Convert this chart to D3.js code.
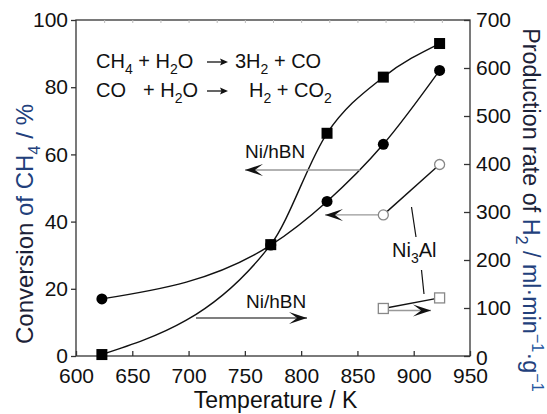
<!DOCTYPE html>
<html><head><meta charset="utf-8">
<script src="https://cdn.jsdelivr.net/npm/d3@7"></script>
<style>body{margin:0;background:#fff}svg{display:block;font-family:"Liberation Sans",Arial,sans-serif}</style>
</head><body><svg id="c" width="547" height="414"></svg>
<script>
// ---- data ----
const temps = [623, 773, 823, 873, 923];
const convNiHBN = [17, 33, 46, 63, 85];        // % (filled circles, left axis)
const h2NiHBN = [3, 232, 464, 581, 651];        // ml/min/g (filled squares, right axis)
const tempsNi3Al = [873, 923];
const convNi3Al = [42, 57];                     // % (open circles, left axis)
const h2Ni3Al = [99, 121];                      // ml/min/g (open squares, right axis)
const xTicks = [600, 650, 700, 750, 800, 850, 900, 950];
const yLeftTicks = [0, 20, 40, 60, 80, 100];
const yRightTicks = [0, 100, 200, 300, 400, 500, 600, 700];

const svg = d3.select("#c");
const X0 = 76, X1 = 470, Y0 = 20, Y1 = 356;
const x = d3.scaleLinear().domain([600, 950]).range([X0, X1]);
const yL = d3.scaleLinear().domain([0, 100]).range([Y1, Y0]);
const yR = d3.scaleLinear().domain([0, 700]).range([Y1, Y0]);
const FS = 21;

// frame
svg.append("rect").attr("x", X0).attr("y", Y0).attr("width", X1 - X0).attr("height", Y1 - Y0)
  .attr("fill", "none").attr("stroke", "#333").attr("stroke-width", 1.3);

// top minor ticks
svg.append("g").attr("transform", `translate(0,${Y0})`)
  .call(d3.axisTop(x).tickValues(d3.range(625, 950, 25)).tickSize(-3).tickFormat(""))
  .call(g => { g.select(".domain").remove(); g.selectAll("line").attr("stroke", "#bbb"); });

// bottom axis
const gx = svg.append("g").attr("transform", `translate(0,${Y1})`)
  .call(d3.axisBottom(x).tickValues(xTicks).tickSize(-5).tickPadding(12).tickFormat(d3.format("d")));
// left axis
const gl = svg.append("g").attr("transform", `translate(${X0},0)`)
  .call(d3.axisLeft(yL).tickValues(yLeftTicks).tickSize(5).tickPadding(3));
// right axis
const gr = svg.append("g").attr("transform", `translate(${X1},0)`)
  .call(d3.axisRight(yR).tickValues(yRightTicks).tickSize(-6).tickPadding(6));
[gx, gl, gr].forEach(g => {
  g.select(".domain").remove();
  g.selectAll("line").attr("stroke", "#333").attr("stroke-width", 1.3);
  g.selectAll("text").attr("font-size", FS).attr("fill", "#111")
    .attr("font-family", '"Liberation Sans",Arial,sans-serif');
});
gx.selectAll("text").attr("dy", "0.71em");
gr.selectAll("text").filter(d => d === 0).attr("dy", "0.4em");

// rich text helper
function rich(sel, segs, fs) {
  const t = sel.append("text").attr("font-size", fs);
  let shift = 0;
  segs.forEach(s => {
    const want = s.sub ? 0.28 * fs : s.sup ? -0.38 * fs : 0;
    const ts = t.append("tspan").text(s.t).attr("dy", want - shift);
    if (s.sub || s.sup) ts.attr("font-size", fs * 0.7);
    if (s.c) ts.attr("fill", s.c);
    shift = want;
  });
  return t;
}
const DARK = "#1c2238", BLUE = "#22407c", BLUE2 = "#2556a0";

// axis titles
rich(svg.append("g").attr("transform", "translate(33,224) rotate(-90)"),
  [{t: "Conversion ", c: DARK}, {t: "of CH", c: BLUE}, {t: "4", sub: true, c: BLUE}, {t: " / %", c: BLUE}], 24)
  .attr("text-anchor", "middle");
rich(svg.append("g").attr("transform", "translate(523,210) rotate(90)"),
  [{t: "Production rate of ", c: DARK}, {t: "H", c: BLUE}, {t: "2", sub: true, c: BLUE}, {t: " / ml·min", c: BLUE},
   {t: "−1", sup: true, c: BLUE2}, {t: "·g", c: BLUE}, {t: "−1", sup: true, c: BLUE2}], 23.3)
  .attr("text-anchor", "middle");
svg.append("text").attr("x", 275.5).attr("y", 408).attr("text-anchor", "middle")
  .attr("font-size", 23).attr("fill", "#111").text("Temperature / K");

// curves
const line = d3.line().curve(d3.curveMonotoneX);
const ptsConv = temps.map((t, i) => [x(t), yL(convNiHBN[i])]);
const ptsH2 = temps.map((t, i) => [x(t), yR(h2NiHBN[i])]);
svg.append("path").attr("d", line(ptsConv)).attr("fill", "none").attr("stroke", "#111").attr("stroke-width", 1.4);
svg.append("path").attr("d", line(ptsH2)).attr("fill", "none").attr("stroke", "#111").attr("stroke-width", 1.4);
const lin = d3.line();
const ptsConvA = tempsNi3Al.map((t, i) => [x(t), yL(convNi3Al[i])]);
const ptsH2A = tempsNi3Al.map((t, i) => [x(t), yR(h2Ni3Al[i])]);
svg.append("path").attr("d", lin(ptsConvA)).attr("fill", "none").attr("stroke", "#111").attr("stroke-width", 1.4);
svg.append("path").attr("d", lin(ptsH2A)).attr("fill", "none").attr("stroke", "#111").attr("stroke-width", 1.4);

// arrows (pointer lines)
function arrow(xs, xe, y, col) {
  svg.append("line").attr("x1", xs).attr("x2", xe).attr("y1", y).attr("y2", y)
    .attr("stroke", col).attr("stroke-width", 1.3);
  const dir = xe < xs ? 1 : -1; // head at xe
  const L = 18, w = 6;
  svg.append("path").attr("d",
    `M${xe},${y} L${xe + dir * L},${y - w} L${xe + dir * L * 0.55},${y} L${xe + dir * L},${y + w} Z`)
    .attr("fill", "#111");
}
arrow(360, 245, 170, "#999");                       // Ni/hBN conversion -> left axis
arrow(196, 307, 318, "#555");                       // Ni/hBN H2 -> right axis
arrow(ptsConvA[0][0] - 5, 325, ptsConvA[0][1], "#999"); // Ni3Al conversion -> left
arrow(ptsH2A[0][0] + 5, 431, ptsH2A[0][1] + 2, "#999"); // Ni3Al H2 -> right

// markers
svg.selectAll(".fc").data(ptsConv).join("circle").attr("cx", d => d[0]).attr("cy", d => d[1])
  .attr("r", 5.5).attr("fill", "#000");
const S = 11;
svg.selectAll(".fs").data(ptsH2).join("rect").attr("x", d => d[0] - S / 2).attr("y", d => d[1] - S / 2)
  .attr("width", S).attr("height", S).attr("fill", "#000");
svg.selectAll(".oc").data(ptsConvA).join("circle").attr("cx", d => d[0]).attr("cy", d => d[1])
  .attr("r", 5).attr("fill", "#fff").attr("stroke", "#888").attr("stroke-width", 1.3);
const S2 = 10;
svg.selectAll(".os").data(ptsH2A).join("rect").attr("x", d => d[0] - S2 / 2).attr("y", d => d[1] - S2 / 2)
  .attr("width", S2).attr("height", S2).attr("fill", "#fff").attr("stroke", "#888").attr("stroke-width", 1.3);

// labels
const TF = 19;
svg.append("text").attr("x", 245).attr("y", 158).attr("font-size", TF).attr("fill", "#111").text("Ni/hBN");
svg.append("text").attr("x", 246).attr("y", 308).attr("font-size", TF).attr("fill", "#111").text("Ni/hBN");
rich(svg.append("g").attr("transform", "translate(392,257)"), [{t: "Ni"}, {t: "3", sub: true}, {t: "Al"}], 20)
  .attr("fill", "#111");
// leader lines
svg.append("line").attr("x1", 411.5).attr("y1", 207).attr("x2", 416).attr("y2", 237).attr("stroke", "#111").attr("stroke-width", 1.2);
svg.append("line").attr("x1", 421.5).attr("y1", 270).attr("x2", 424).attr("y2", 294).attr("stroke", "#111").attr("stroke-width", 1.2);

// equations
function eqArrow(xs, y) {
  svg.append("line").attr("x1", xs).attr("x2", xs + 16).attr("y1", y).attr("y2", y).attr("stroke", "#111").attr("stroke-width", 1.3);
  svg.append("path").attr("d", `M${xs + 21},${y} L${xs + 13},${y - 3.5} L${xs + 14.5},${y} L${xs + 13},${y + 3.5} Z`).attr("fill", "#111");
}
const EF = 20;
rich(svg.append("g").attr("transform", "translate(96,68)"),
  [{t: "CH"}, {t: "4", sub: true}, {t: " + H"}, {t: "2", sub: true}, {t: "O"}], EF).attr("fill", "#111");
eqArrow(207, 62);
rich(svg.append("g").attr("transform", "translate(235,68)"),
  [{t: "3H"}, {t: "2", sub: true}, {t: " + CO"}], EF).attr("fill", "#111");
rich(svg.append("g").attr("transform", "translate(96,97)"), [{t: "CO"}], EF).attr("fill", "#111");
rich(svg.append("g").attr("transform", "translate(143,97)"),
  [{t: "+ H"}, {t: "2", sub: true}, {t: "O"}], EF).attr("fill", "#111");
eqArrow(207, 91);
rich(svg.append("g").attr("transform", "translate(249,97)"),
  [{t: "H"}, {t: "2", sub: true}, {t: " + CO"}, {t: "2", sub: true}], EF).attr("fill", "#111");
</script></body></html>
